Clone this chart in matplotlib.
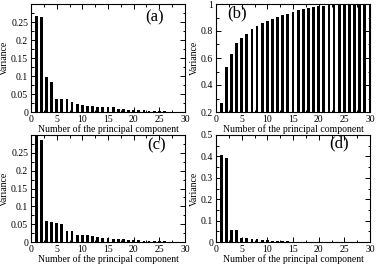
import matplotlib
matplotlib.use('Agg')
from matplotlib import pyplot as plt
from matplotlib.ticker import MultipleLocator

comp = list(range(1, 31))
var_a = [0.268, 0.265, 0.098, 0.083, 0.037, 0.035, 0.035, 0.028, 0.022, 0.020,
         0.018, 0.017, 0.015, 0.014, 0.014, 0.013, 0.009, 0.008, 0.006, 0.006,
         0.005, 0.005, 0.004, 0.003, 0.003, 0.002, 0.001, 0.001, 0.0005, 0.0]
cum_b = [0.269, 0.531, 0.629, 0.710, 0.745, 0.780, 0.813, 0.838, 0.858, 0.875,
         0.890, 0.904, 0.917, 0.926, 0.939, 0.953, 0.961, 0.968, 0.975, 0.983,
         0.988, 0.993, 0.997, 1.0, 1.0, 1.0, 1.0, 1.0, 1.0, 1.0]
var_c = [0.305, 0.285, 0.060, 0.055, 0.052, 0.051, 0.030, 0.030, 0.021, 0.021,
         0.019, 0.018, 0.015, 0.011, 0.010, 0.009, 0.009, 0.008, 0.006, 0.006,
         0.005, 0.004, 0.004, 0.003, 0.002, 0.002, 0.001, 0.001, 0.0005, 0.0]
var_d = [0.408, 0.393, 0.058, 0.055, 0.017, 0.017, 0.014, 0.013, 0.011, 0.010,
         0.006, 0.005, 0.004, 0.003, 0.002, 0.002, 0.002, 0.001, 0.001, 0.001,
         0.001, 0.0005, 0.0005, 0.0005, 0.0, 0.0, 0.0, 0.0, 0.0, 0.0]

plt.rcParams['font.family'] = ['Liberation Serif', 'DejaVu Serif']
plt.rcParams['font.size'] = 7

fig = plt.figure(figsize=(3.76, 2.67), dpi=100)
W, H = 376.0, 267.0
boxes = {'a': (31, 185, 4, 112), 'b': (216, 370, 4, 112),
         'c': (31, 185, 135, 242), 'd': (216, 370, 135, 242)}
panels = [
    ('a', var_a, (0, 0.3), [0, 0.05, 0.1, 0.15, 0.2, 0.25], 0.025, (0.80, 0.88)),
    ('b', cum_b, (0.2, 1.0), [0.2, 0.4, 0.6, 0.8, 1.0], 0.1, (0.14, 0.91)),
    ('c', var_c, (0, 0.3), [0, 0.05, 0.1, 0.15, 0.2, 0.25], 0.025, (0.815, 0.905)),
    ('d', var_d, (0, 0.5), [0, 0.1, 0.2, 0.3, 0.4, 0.5], 0.05, (0.80, 0.92)),
]

for name, vals, ylim, yt, ymin, lab in panels:
    x0, x1, y0, y1 = boxes[name]
    ax = fig.add_axes([x0 / W, 1 - y1 / H, (x1 - x0) / W, (y1 - y0) / H])
    ax.bar(comp, vals, width=0.55, color='black', bottom=0)
    ax.set_xlim(0, 30)
    ax.set_ylim(*ylim)
    ax.set_xticks([0, 5, 10, 15, 20, 25, 30])
    ax.xaxis.set_minor_locator(MultipleLocator(2.5))
    ax.set_yticks(yt)
    ax.set_yticklabels(['%g' % v for v in yt])
    ax.yaxis.set_minor_locator(MultipleLocator(ymin))
    ax.tick_params(which='both', direction='in', top=True, right=True, width=0.7)
    ax.tick_params(which='major', length=3.5, pad=2)
    ax.tick_params(which='minor', length=1.8)
    for s in ax.spines.values():
        s.set_linewidth(0.8)
    ax.set_xlabel('Number of the principal component', labelpad=0.5)
    ax.set_ylabel('Variance', labelpad=1.5)
    ax.text(lab[0], lab[1], '(' + name + ')', transform=ax.transAxes,
            fontsize=12, ha='center', va='center')

fig.savefig('out.png', dpi=100)
